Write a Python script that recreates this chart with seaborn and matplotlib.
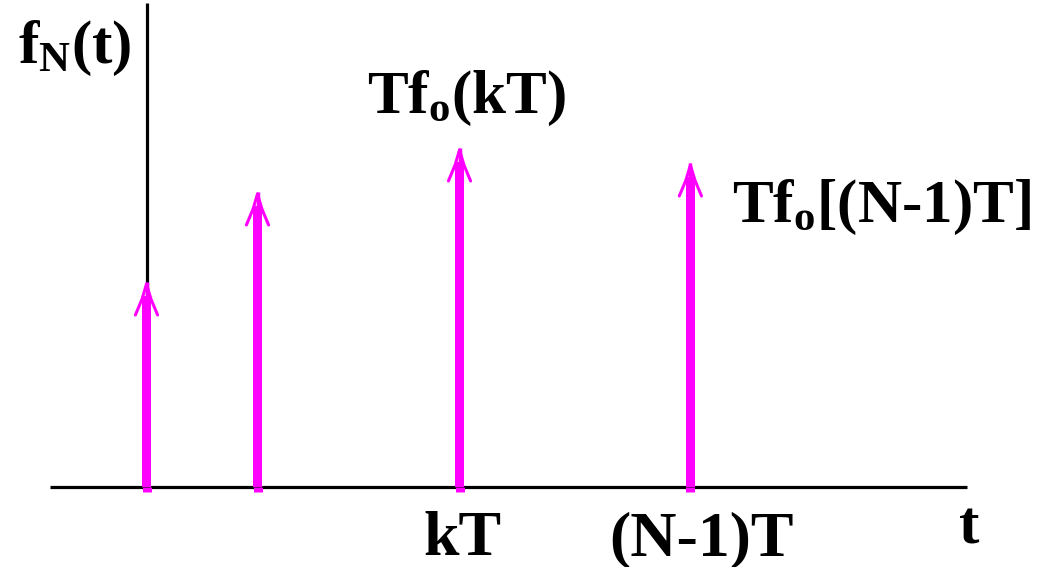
import numpy as np
import pandas as pd
import seaborn as sns
import matplotlib.pyplot as plt

# impulse positions (in units of the first spacing) and heights
positions = [0.0, 1.0, 2.82, 4.9]
heights = [2.05, 2.95, 3.39, 3.24]
labels_below = ["", "", "kT", "(N\u2010" + "1)T"]

sns.set_theme(style="white")
plt.rcParams['font.family'] = ['Liberation Serif', 'DejaVu Serif']
plt.rcParams['font.weight'] = 'bold'
plt.rcParams['text.color'] = 'black'
plt.rcParams['mathtext.fontset'] = 'custom'
plt.rcParams['mathtext.rm'] = 'Liberation Serif:bold'
plt.rcParams['mathtext.it'] = 'Liberation Serif:bold'
plt.rcParams['mathtext.bf'] = 'Liberation Serif:bold'

magenta = '#FF00FF'
px_x = 111.0   # pixels per x unit
px_y = 100.0   # pixels per y unit
x0, y0 = 146.5, 487.0

fig = plt.figure(figsize=(10.47, 5.67), dpi=100)
ax = fig.add_axes([0, 0, 1, 1])

df = pd.DataFrame({"t": positions, "h": [h - 0.14 for h in heights]})

# axes lines
ax.plot([(50 - x0) / px_x, (967 - x0) / px_x], [0, 0], color='black', lw=2.3, zorder=1,
        solid_capstyle='butt')
ax.plot([0, 0], [1.9, (y0 - 3) / px_y], color='black', lw=2.3, zorder=1,
        solid_capstyle='butt')

# impulse shafts
sns.barplot(data=df, x="t", y="h", native_scale=True, width=9 / px_x,
            color=magenta, saturation=1, linewidth=0, ax=ax, zorder=2)
# short stubs below the axis
ax.vlines(positions, -0.05, 0, color=magenta, lw=6.5, zorder=2)

# arrow heads
for t, h in zip(positions, heights):
    ax.plot([t, t], [h - 0.2, h], color=magenta, lw=2.5, zorder=3, solid_capstyle='butt')
    ax.plot([t - 0.1, t - 0.04, t], [h - 0.33, h - 0.17, h - 0.02], color=magenta, lw=2.2, zorder=3)
    ax.plot([t + 0.1, t + 0.04, t], [h - 0.33, h - 0.17, h - 0.02], color=magenta, lw=2.2, zorder=3)

fs = 44
ax.text((18 - x0) / px_x, (y0 - 63) / px_y, r'$\mathrm{f_N(t)}$', fontsize=fs,
        ha='left', va='baseline', color='black')
ax.text((367 - x0) / px_x, (y0 - 113) / px_y, r'$\mathrm{Tf_o(kT)}$', fontsize=fs,
        ha='left', va='baseline', color='black')
ax.text((732 - x0) / px_x, (y0 - 222) / px_y, r'$\mathrm{Tf_o[(N}$' + '\u2010' + r'$\mathrm{1)T]}$',
        fontsize=fs, ha='left', va='baseline', color='black')

for t, lab in zip(positions, labels_below):
    if lab:
        shift = 0.03 if lab == "kT" else 0.1
        ax.text(t + shift, (y0 - 555) / px_y, lab, fontsize=46, fontweight='bold',
                ha='center', va='baseline', color='black')
ax.text((959 - x0) / px_x, (y0 - 543) / px_y, 't', fontsize=fs, fontweight='bold',
        ha='left', va='baseline', color='black')

ax.set_xlim(-x0 / px_x, (1047 - x0) / px_x)
ax.set_ylim((y0 - 567) / px_y, y0 / px_y)
ax.axis('off')

fig.savefig('out.png', dpi=100, facecolor='white')
